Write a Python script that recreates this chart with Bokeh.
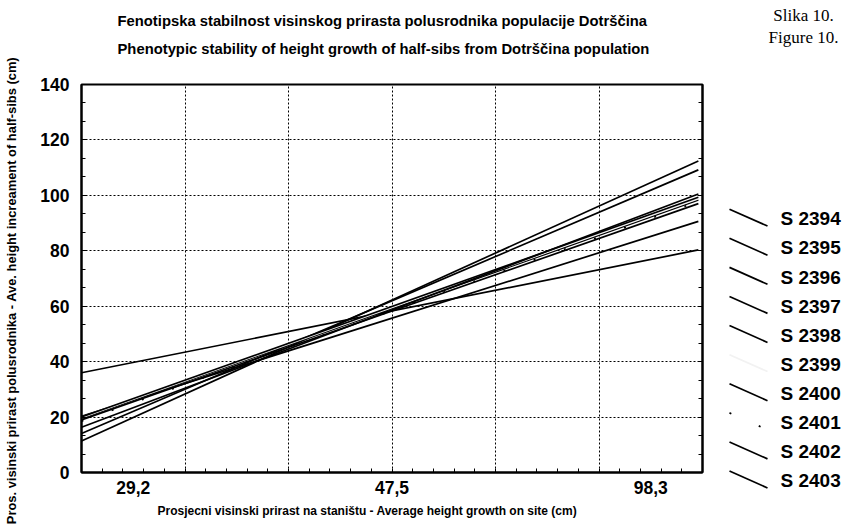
from bokeh.plotting import figure
from bokeh.models import Range1d, FixedTicker, LinearAxis, Title
from bokeh.layouts import row, column
from bokeh.embed import file_html
from bokeh.resources import INLINE
from bokeh.core.properties import value
import math

# ---- data ----
families = ["S 2394", "S 2395", "S 2396", "S 2397", "S 2398",
            "S 2399", "S 2400", "S 2401", "S 2402", "S 2403"]
y_left = [14.1, 19.5, 36.0, 20.3, 11.4, 19.8, 16.3, 18.5, 20.0, 19.0]
y_right = [109.2, 98.3, 80.3, 90.6, 112.4, 98.8, 100.5, 97.8, 99.3, 97.0]
x_left = 0.0
x_right = 59.6
x_tick_pos = [5, 30, 55]
x_tick_labels = ["29,2", "47,5", "98,3"]
x_grid = [10, 20, 30, 40, 50]
y_ticks = [0, 20, 40, 60, 80, 100, 120, 140]

title_1 = "Fenotipska stabilnost visinskog prirasta polusrodnika populacije Dotrščina"
title_2 = "Phenotypic stability of height growth of half-sibs from Dotrščina population"
fig_no = ["Slika 10.", "Figure 10."]
x_label = "Prosjecni visinski prirast na staništu - Average height growth on site (cm)"
y_label = "Pros. visinski prirast polusrodnika - Ave. height increament of half-sibs (cm)"

line_colors = ["black"] * 10
line_colors[5] = "#f2f2f2"
line_dashes = ["solid"] * 10
line_dashes[7] = "2 30"

FONT = "Liberation Sans"
TOP_H = 62          # height of the heading band
BODY_H = 462        # height of the chart band
LEFT_W = 22         # band holding the rotated y caption
MAIN_W = 682
LEG_W = 155
FULL_H = TOP_H + BODY_H


def blank(width, height, xr, yr):
    f = figure(width=width, height=height, x_range=xr, y_range=yr, x_axis_type=None,
               y_axis_type=None, output_backend="svg", toolbar_location=None,
               title=None, min_border=0)
    f.outline_line_color = None
    f.grid.visible = False
    return f


# ---- rotated y caption (full height band on the left) ----
ylab = blank(LEFT_W, FULL_H, Range1d(0, LEFT_W), Range1d(0, FULL_H))
ylab.text(x=[11], y=[FULL_H - 290], text=[y_label], angle=math.pi / 2,
          text_align="center", text_baseline="middle", text_font=value(FONT),
          text_font_style="bold", text_font_size="12.9px", text_color="black")

# ---- heading band ----
head_w = MAIN_W + LEG_W
head = blank(head_w, TOP_H, Range1d(LEFT_W, LEFT_W + head_w), Range1d(TOP_H, 0))
head.text(x=[117, 117], y=[20, 48], text=[title_1, title_2], text_align="left",
          text_baseline="middle", text_font=value(FONT), text_font_style="bold",
          text_font_size="14.8px", text_color="black")
head.text(x=[803, 803], y=[15, 37], text=fig_no, text_align="center",
          text_baseline="middle", text_font=value("Liberation Serif"),
          text_font_size="17px", text_color="black")

# ---- main chart ----
p = figure(width=MAIN_W, height=BODY_H, x_range=Range1d(0, 60), y_range=Range1d(0, 140),
           output_backend="svg", toolbar_location=None, title=None,
           min_border_left=59, min_border_right=2, min_border_top=22, min_border_bottom=52)
p.background_fill_color = "white"
p.border_fill_color = "white"
p.outline_line_color = "black"
p.outline_line_width = 2

for i, fam in enumerate(families):
    p.line(x=[x_left, x_right], y=[y_left[i], y_right[i]], line_color=line_colors[i],
           line_width=1.7, line_dash=line_dashes[i])

minor_x = [2 * k for k in range(1, 30)]
minor_y = [k * 20 / 3 for k in range(1, 21)]

p.xaxis.ticker = FixedTicker(ticks=x_tick_pos, minor_ticks=minor_x)
p.xaxis.major_label_overrides = dict(zip(x_tick_pos, x_tick_labels))
p.yaxis.ticker = FixedTicker(ticks=y_ticks, minor_ticks=minor_y)
p.xgrid.ticker = FixedTicker(ticks=x_grid)
p.ygrid.ticker = FixedTicker(ticks=y_ticks[1:-1])
for g in (p.xgrid, p.ygrid):
    g.grid_line_color = "black"
    g.grid_line_dash = "2 2"
    g.grid_line_width = 1

for ax in (p.xaxis, p.yaxis):
    ax.axis_line_color = "black"
    ax.axis_line_width = 2
    ax.major_tick_out = 0
    ax.minor_tick_out = 0
    ax.minor_tick_in = 4
    ax.minor_tick_line_color = "black"
    ax.major_tick_line_color = "black"
    ax.major_label_text_font = FONT
    ax.major_label_text_font_style = "bold"
    ax.major_label_text_font_size = "17.5px"
    ax.major_label_text_color = "black"
p.xaxis.major_tick_in = 0
p.yaxis.major_tick_in = 5
p.xaxis.major_label_standoff = 8
p.yaxis.major_label_standoff = 12

# mirrored tick marks on the right edge (no labels)
r_ax = LinearAxis(ticker=FixedTicker(ticks=[], minor_ticks=minor_y),
                  major_tick_out=0, major_tick_in=0, minor_tick_out=0, minor_tick_in=4,
                  axis_line_color="black", axis_line_width=2)
p.add_layout(r_ax, "right")

p.add_layout(Title(text=x_label, align="left", offset=76, text_font=FONT,
                   text_font_style="bold", text_font_size="12px", standoff=10,
                   text_color="black"), "below")

# ---- legend band ----
top_idx = (TOP_H - 218.3) / 29.1
bot_idx = (TOP_H + BODY_H - 218.3) / 29.1
lg = blank(LEG_W, BODY_H, Range1d(0, LEG_W), Range1d(bot_idx, top_idx))
for i, fam in enumerate(families):
    lg.segment(x0=25, y0=i - 0.33, x1=63, y1=i + 0.25, line_color=line_colors[i],
               line_width=1.7, line_dash=line_dashes[i])
lg.text(x=76, y=list(range(len(families))), text=families, text_baseline="middle",
        text_font=value(FONT), text_font_style="bold", text_font_size="19px",
        text_color="black")

layout = row(column(ylab), column(head, row(p, column(lg))))
open("out.html", "w").write(file_html(layout, INLINE))
